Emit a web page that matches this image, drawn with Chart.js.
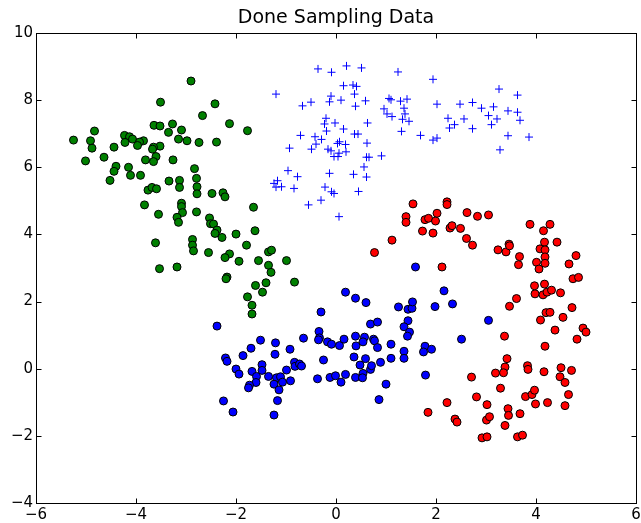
<!DOCTYPE html>
<html>
<head>
<meta charset="utf-8">
<script src="https://cdn.jsdelivr.net/npm/chart.js"></script>
<style>
  html, body { margin: 0; padding: 0; background: #fff; }
  canvas { display: block; }
</style>
</head>
<body>
<canvas id="samplingChart" width="641" height="523"></canvas>
<script>
// cluster points, [x, y]
const greenPts = [
  [-2.90,8.57],[-3.51,7.94],[-2.42,7.89],[-2.67,7.54],[-2.13,7.30],[-3.64,7.25],[-3.52,7.23],[-3.27,7.29],
  [-3.09,7.11],[-3.35,7.04],[-1.77,7.09],[-4.83,7.08],[-4.23,6.95],[-4.13,6.91],[-4.07,6.84],[-3.85,6.79],
  [-3.93,6.75],[-3.15,6.84],[-2.98,6.79],[-2.74,6.74],[-2.39,6.75],[-5.25,6.81],[-4.91,6.79],[-4.88,6.57],
  [-4.22,6.74],[-3.97,6.65],[-4.44,6.60],[-3.52,6.63],[-3.65,6.60],[-3.67,6.54],[-3.60,6.32],[-4.64,6.30],
  [-5.01,6.19],[-3.81,6.22],[-3.65,6.17],[-3.26,6.22],[-4.40,6.03],[-4.15,6.00],[-2.83,5.96],[-4.44,5.88],
  [-4.11,5.76],[-3.91,5.76],[-4.52,5.61],[-2.79,5.67],[-3.34,5.59],[-3.13,5.61],[-3.13,5.40],[-3.76,5.32],
  [-3.68,5.40],[-3.59,5.36],[-2.78,5.42],[-2.78,5.21],[-2.48,5.22],[-2.26,5.24],[-2.22,5.12],[-3.83,4.88],
  [-3.09,4.93],[-3.09,4.83],[-1.65,4.81],[-3.55,4.60],[-3.07,4.65],[-3.18,4.51],[-3.15,4.36],[-2.79,4.67],
  [-2.53,4.49],[-2.51,4.32],[-2.45,4.31],[-2.38,4.13],[-2.42,4.03],[-2.28,3.91],[-2.00,4.01],[-1.62,4.11],
  [-2.87,3.85],[-2.87,3.68],[-2.85,3.51],[-3.61,3.75],[-2.55,3.46],[-1.79,3.68],[-2.13,3.42],[-2.22,3.31],
  [-1.94,3.20],[-1.35,3.48],[-1.29,3.53],[-1.55,3.22],[-0.99,3.22],[-1.35,3.08],[-1.30,2.87],[-3.53,2.98],
  [-3.18,3.03],[-2.18,2.73],[-2.20,2.68],[-1.61,2.48],[-1.40,2.56],[-0.83,2.58],[-1.47,2.28],[-1.77,2.14],
  [-1.68,1.89],[-1.68,1.63]
];

const crossPts = [
  [-0.36,8.93],[-0.09,8.83],[0.21,9.02],[0.51,8.96],[1.24,8.84],[1.94,8.62],[-1.20,8.18],[0.15,8.43],
  [0.34,8.45],[0.41,8.41],[-0.10,8.12],[0.37,8.18],[-0.13,7.95],[0.10,8.00],[0.59,7.98],[-0.67,7.83],
  [-0.50,7.94],[0.39,7.82],[1.06,8.05],[1.10,8.01],[1.29,7.97],[1.42,8.03],[2.02,7.88],[2.48,7.88],
  [2.73,7.93],[2.91,7.76],[3.15,7.80],[3.26,8.33],[3.63,8.15],[0.96,7.74],[1.36,7.76],[1.02,7.59],
  [1.12,7.51],[1.38,7.59],[1.33,7.43],[1.46,7.37],[3.44,7.68],[3.63,7.64],[3.68,7.40],[3.05,7.54],
  [3.22,7.44],[3.11,7.27],[2.24,7.46],[2.56,7.44],[2.37,7.27],[2.27,7.17],[2.73,7.15],[-0.20,7.46],
  [-0.23,7.29],[-0.02,7.32],[0.63,7.32],[0.15,7.14],[-0.19,7.08],[-0.71,6.95],[-0.42,6.91],[0.37,6.99],
  [0.44,6.99],[1.31,7.07],[1.69,6.95],[1.94,6.81],[2.02,6.87],[3.44,6.94],[3.86,6.90],[3.28,6.52],
  [-0.29,6.83],[-0.40,6.69],[0.07,6.76],[0.03,6.71],[0.19,6.68],[0.62,6.72],[-0.93,6.57],[-0.49,6.54],
  [-0.16,6.54],[-0.10,6.49],[0.20,6.46],[0.06,6.42],[-0.04,6.32],[0.04,6.32],[0.61,6.30],[0.66,6.30],
  [0.91,6.34],[0.56,6.01],[-0.96,5.90],[-0.77,5.72],[-0.13,5.82],[0.35,5.79],[0.61,5.71],[-1.24,5.52],
  [-1.17,5.60],[-1.09,5.42],[-1.20,5.41],[-0.84,5.37],[-0.22,5.41],[-0.09,5.27],[-0.04,5.22],[0.45,5.28],
  [-0.30,5.02],[-0.55,4.88],[0.06,4.53]
];

const redPts = [
  [1.54,4.91],[2.22,4.97],[2.22,4.89],[1.40,4.53],[1.40,4.36],[1.78,4.44],[1.85,4.48],[1.99,4.40],
  [2.02,4.63],[2.62,4.65],[2.83,4.54],[3.05,4.58],[1.73,4.10],[1.94,4.04],[2.28,4.19],[2.32,4.26],
  [2.49,4.18],[2.61,3.88],[2.73,3.68],[1.12,3.83],[0.77,3.46],[2.12,3.03],[3.88,4.30],[4.28,4.30],
  [4.15,4.11],[4.17,3.77],[4.42,3.77],[3.24,3.54],[3.40,3.48],[3.46,3.71],[3.47,3.66],[4.08,3.57],
  [4.18,3.54],[4.18,3.33],[4.01,3.17],[4.06,2.97],[4.18,3.14],[3.67,3.34],[3.65,3.10],[4.80,3.37],
  [4.66,3.12],[4.74,2.68],[4.85,2.72],[3.97,2.47],[4.17,2.52],[3.98,2.23],[4.14,2.20],[4.22,2.28],
  [4.31,2.34],[4.49,2.26],[3.61,2.09],[3.47,1.86],[4.20,1.67],[4.28,1.68],[4.72,1.82],[4.09,1.45],
  [4.54,1.53],[4.38,1.15],[4.94,1.21],[5.00,1.09],[4.82,0.88],[3.37,0.97],[4.18,0.67],[3.42,0.30],
  [3.38,0.05],[3.83,0.09],[3.84,-0.02],[4.16,-0.09],[4.50,0.03],[4.71,-0.05],[4.48,-0.24],[4.58,-0.41],
  [3.19,-0.13],[3.35,-0.12],[2.71,-0.25],[3.29,-0.58],[3.79,-0.83],[3.92,-0.77],[3.97,-0.64],[3.99,-1.05],
  [4.23,-1.01],[4.65,-0.77],[4.58,-1.10],[2.81,-0.84],[3.02,-1.07],[2.22,-1.01],[1.84,-1.30],[2.38,-1.50],
  [2.42,-1.59],[3.01,-1.53],[3.07,-1.43],[3.44,-1.19],[3.45,-1.39],[3.68,-1.34],[3.38,-1.69],[2.92,-2.06],
  [3.02,-2.03],[3.63,-2.03],[3.73,-1.98]
];

const bluePts = [
  [1.59,3.03],[0.19,2.28],[0.39,2.10],[0.60,1.97],[-0.30,1.69],[2.16,2.32],[2.33,1.93],[1.25,1.84],
  [1.44,1.77],[1.52,1.80],[1.53,1.99],[1.98,1.85],[0.69,1.33],[0.83,1.39],[1.44,1.43],[1.36,1.25],
  [1.47,1.09],[1.43,0.97],[-2.38,1.27],[-0.34,1.11],[-0.33,0.92],[-0.35,0.86],[-0.17,0.80],[-0.09,0.73],
  [0.07,0.69],[0.16,0.88],[0.39,0.97],[0.57,0.94],[0.54,0.80],[0.40,0.68],[0.75,0.88],[0.77,0.83],
  [0.83,0.63],[1.10,0.73],[1.36,0.52],[1.36,0.31],[1.78,0.67],[1.91,0.58],[1.75,0.50],[-1.51,0.85],
  [-1.21,0.77],[-1.70,0.61],[-1.22,0.43],[-0.92,0.58],[-0.65,0.91],[-1.86,0.39],[-2.21,0.32],[-2.18,0.22],
  [-2.00,-0.01],[-1.94,-0.16],[-1.68,-0.08],[-1.48,0.12],[-1.48,-0.05],[-1.59,-0.23],[-1.35,-0.23],[-1.60,-0.41],
  [-1.73,-0.49],[-1.75,-0.57],[-1.19,-0.27],[-1.11,-0.24],[-1.24,-0.46],[-1.07,-0.40],[-1.14,-0.63],[-0.99,-0.04],
  [-0.83,0.19],[-0.82,0.07],[-0.73,0.14],[-0.69,0.08],[-0.91,-0.36],[-0.25,0.26],[0.36,0.35],[0.59,0.30],
  [0.48,0.11],[0.54,-0.14],[0.69,-0.02],[0.71,0.09],[0.89,0.19],[1.10,0.31],[-0.37,-0.30],[-0.12,-0.26],
  [-0.01,-0.21],[0.10,-0.40],[0.19,-0.17],[0.39,-0.26],[0.53,-0.27],[1.00,-0.46],[0.86,-0.92],[1.79,-0.19],
  [-2.25,-0.96],[-2.06,-1.29],[-1.17,-0.95],[-1.24,-1.38],[3.05,1.44],[2.51,0.88]
];

const xTickVals = [-6, -4, -2, 0, 2, 4, 6];
const xTickLabels = ['\u22126', '\u22124', '\u22122', '0', '2', '4', '6'];
const yTickVals = [-4, -2, 0, 2, 4, 6, 8, 10];
const yTickLabels = ['\u22124', '\u22122', '0', '2', '4', '6', '8', '10'];

const toXY = pts => pts.map(p => ({ x: p[0], y: p[1] }));

// matplotlib style frame with inward ticks on all four sides
const frameTicks = {
    id: 'frameTicks',
    afterDraw(chart) {
        const { ctx, chartArea: a, scales } = chart;
        const L = Math.floor(a.left) + 0.5, R = Math.floor(a.right) + 0.5;
        const T = Math.floor(a.top) + 0.5, B = Math.floor(a.bottom) + 0.5;
        const len = 5;
        ctx.save();
        ctx.strokeStyle = '#000';
        ctx.lineWidth = 1;
        ctx.strokeRect(L, T, R - L, B - T);
        ctx.beginPath();
        xTickVals.forEach(v => {
            const px = Math.round(scales.x.getPixelForValue(v)) + 0.5;
            ctx.moveTo(px, B); ctx.lineTo(px, B - len);
            ctx.moveTo(px, T); ctx.lineTo(px, T + len);
        });
        yTickVals.forEach(v => {
            const py = Math.round(scales.y.getPixelForValue(v)) + 0.5;
            ctx.moveTo(L, py); ctx.lineTo(L + len, py);
            ctx.moveTo(R, py); ctx.lineTo(R - len, py);
        });
        ctx.stroke();
        ctx.restore();
    }
};

const tickFont = { family: 'DejaVu Sans', size: 15 };

new Chart(document.getElementById('samplingChart'), {
    type: 'scatter',
    data: {
        datasets: [
            {
                label: 'green',
                data: toXY(greenPts),
                pointStyle: 'circle',
                radius: 4,
                backgroundColor: '#008000',
                borderColor: '#000',
                borderWidth: 1
            },
            {
                label: 'crosses',
                data: toXY(crossPts),
                pointStyle: 'cross',
                radius: 4,
                backgroundColor: '#0000ff',
                borderColor: '#0000ff',
                borderWidth: 1
            },
            {
                label: 'red',
                data: toXY(redPts),
                pointStyle: 'circle',
                radius: 4,
                backgroundColor: '#ff0000',
                borderColor: '#000',
                borderWidth: 1
            },
            {
                label: 'blue',
                data: toXY(bluePts),
                pointStyle: 'circle',
                radius: 4,
                backgroundColor: '#0000ff',
                borderColor: '#000',
                borderWidth: 1
            }
        ]
    },
    options: {
        responsive: false,
        animation: false,
        events: [],
        layout: { padding: { right: 1 } },
        plugins: {
            legend: { display: false },
            tooltip: { enabled: false },
            title: {
                display: true,
                text: 'Done Sampling Data',
                fullSize: false,
                color: '#000',
                font: { family: 'DejaVu Sans', size: 19, weight: 'normal', lineHeight: 1 },
                padding: { top: 9, bottom: 5 }
            }
        },
        scales: {
            x: {
                type: 'linear',
                min: -6,
                max: 6,
                grid: { display: false, drawTicks: false },
                border: { display: false },
                ticks: {
                    stepSize: 2,
                    autoSkip: false,
                    maxRotation: 0,
                    padding: 3,
                    color: '#000',
                    font: tickFont,
                    callback: (v) => xTickLabels[xTickVals.indexOf(v)]
                },
                afterFit(scale) {
                    scale.height = 20;
                    scale.paddingLeft = 0;
                    scale.paddingRight = 0;
                }
            },
            y: {
                type: 'linear',
                min: -4,
                max: 10,
                grid: { display: false, drawTicks: false },
                border: { display: false },
                ticks: {
                    stepSize: 2,
                    autoSkip: false,
                    padding: 3,
                    color: '#000',
                    font: tickFont,
                    callback: (v) => yTickLabels[yTickVals.indexOf(v)]
                },
                afterFit(scale) {
                    scale.width = 36;
                    scale.paddingTop = 0;
                    scale.paddingBottom = 0;
                }
            }
        }
    },
    plugins: [frameTicks]
});
</script>
</body>
</html>
